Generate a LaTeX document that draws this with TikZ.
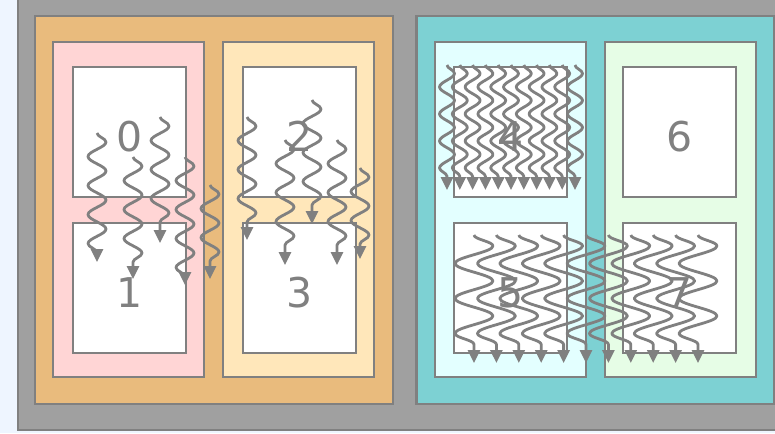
\documentclass[tikz,border=0pt]{standalone}
\usepackage{fontspec}
\newfontfamily\digfont{DejaVu Sans}
\usetikzlibrary{decorations.pathmorphing,arrows.meta}
\definecolor{bgblue}{HTML}{EEF5FF}
\definecolor{outergray}{HTML}{A0A0A0}
\definecolor{linegray}{HTML}{808080}
\definecolor{orangebox}{HTML}{E9BB7D}
\definecolor{pinkbox}{HTML}{FFD5D5}
\definecolor{peachbox}{HTML}{FFE7BA}
\definecolor{tealbox}{HTML}{7DD1D3}
\definecolor{cyanbox}{HTML}{E3FFFF}
\definecolor{greenbox}{HTML}{E6FDE6}
\tikzset{
  box/.style={draw=linegray, line width=2.1pt, outer sep=0pt, inner sep=0pt},
  cell/.style={box, fill=white, minimum width=113pt, minimum height=130pt,
    text=linegray, font=\digfont\fontsize{41}{48}\selectfont, text height=39pt},
  col/.style={box, minimum width=151pt, minimum height=335pt},
  grp/.style={box, minimum width=358pt, minimum height=388pt},
  wig/.style 2 args={draw=linegray, line width=2.8pt, line join=round,
    -{Triangle[length=13pt,width=12pt]}, decorate,
    decoration={snake, amplitude=#1, segment length=#2, post length=7pt}},
}
\begin{document}
\begin{tikzpicture}[x=1pt,y=-1pt]
\useasboundingbox (0,0) rectangle (775,433);
\fill[bgblue] (0,0) rectangle (775,433);
\node[box, fill=outergray, minimum width=780pt, minimum height=450pt] (outer) at (408,205) {};
\node[grp, fill=orangebox] (gleft) at (214,210) {};
\node[grp, fill=tealbox] (gright) at (595.5,210) {};
\node[col, fill=pinkbox] (c0) at (128.5,209.5) {};
\node[col, fill=peachbox] (c1) at (298.5,209.5) {};
\node[col, fill=cyanbox] (c2) at (510.5,209.5) {};
\node[col, fill=greenbox] (c3) at (680.5,209.5) {};
\node[cell] (n0) at (129.5,132) {0};
\node[cell] (n1) at (129.5,288) {1};
\node[cell] (n2) at (299.5,132) {2};
\node[cell] (n3) at (299.5,288) {3};
\node[cell] (n4) at (510.5,132) {4};
\node[cell] (n5) at (510.5,288) {5};
\node[cell] (n6) at (679.5,132) {6};
\node[cell] (n7) at (679.5,288) {7};
% left wiggles
\foreach \x/\ya/\yb [count=\k] in {97/133/262, 133/157/279, 160/117/243, 185/157/285, 210/185/279,
  247/117/240, 312/100/224, 285/140/265, 337/140/265, 360/168/259}{
  \coordinate (la\k) at (\x,\ya);
  \coordinate (lb\k) at (\x,\yb);
  \draw[wig={9pt}{29pt}] (la\k) -- (lb\k);
}
% top wiggles in 4
\foreach \i in {0,...,10}{
  \coordinate (ta\i) at (447+12.8*\i,65);
  \coordinate (tb\i) at (447+12.8*\i,190);
  \draw[wig={7.5pt}{27pt}] (ta\i) -- (tb\i);
}
% bottom wiggles 5 / 7
\foreach \i in {0,...,10}{
  \coordinate (ba\i) at (474+22.4*\i,235);
  \coordinate (bb\i) at (474+22.4*\i,363);
  \draw[wig={19pt}{35pt}] (ba\i) -- (bb\i);
}
\end{tikzpicture}
\end{document}
